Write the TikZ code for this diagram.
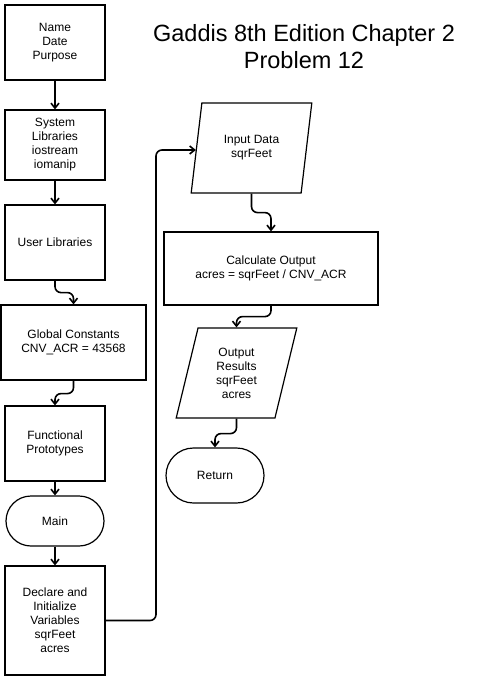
\documentclass[tikz,border=0pt]{standalone}
\usepackage{fontspec}
\setmainfont{Liberation Sans}
\usetikzlibrary{shapes.geometric,shapes.misc,arrows.meta}
\begin{document}
\begin{tikzpicture}[x=1pt,y=-1pt,
  every node/.style={font=\fontsize{12}{14}\selectfont, align=center, inner sep=1pt},
  procbox/.style={draw, line width=1.2pt, rectangle, minimum width=100pt, minimum height=75pt},
  termbox/.style={draw, line width=1.2pt, rounded rectangle, minimum width=100pt, minimum height=50pt},
  iobox/.style={draw, line width=1.2pt, trapezium, trapezium left angle=77, trapezium right angle=103,
    trapezium stretches=true, minimum width=121pt, minimum height=90pt},
  conn/.style={line width=1.6pt, rounded corners=6pt, -{Straight Barb[length=5pt,width=8pt,line width=1.6pt]}}
]
\useasboundingbox (0,0) rectangle (478,684);
\fill[white] (0,0) rectangle (478,684);

\node[font=\fontsize{23.5}{27}\selectfont] (title) at (304,47) {Gaddis 8th Edition Chapter 2\\Problem 12};

\node[procbox] (b1) at (55,42.5) {Name\\Date\\Purpose};
\node[procbox, minimum height=70pt] (b2) at (55,145) {System\\Libraries\\iostream\\iomanip};
\node[procbox] (b3) at (55,242.5) {User Libraries};
\node[procbox, minimum width=145pt] (b4) at (73.5,342.5) {Global Constants\\CNV\_ACR = 43568};
\node[procbox] (b5) at (55,443.5) {Functional\\Prototypes};
\node[termbox] (b6) at (55,521) {Main};
\node[procbox, minimum height=109pt] (b7) at (55,620.5) {Declare and\\Initialize\\Variables\\sqrFeet\\acres};

\node[iobox] (in) at (251.5,148) {Input Data\\sqrFeet};
\node[procbox, minimum width=214pt, minimum height=73pt] (calc) at (271,268.5) {Calculate Output\\acres = sqrFeet / CNV\_ACR};
\node[iobox] (out) at (236.5,373) {Output\\Results\\sqrFeet\\acres};
\node[termbox, minimum height=55pt] (ret) at (215,475.5) {Return};

\draw[conn] (b1.south) -- (b2.north);
\draw[conn] (b2.south) -- (b3.north);
\draw[conn] (b3.south) -- ++(0,12) -| (b4.north);
\draw[conn] (b4.south) -- ++(0,13) -| (b5.north);
\draw[conn] (b5.south) -- (b6.north);
\draw[conn] (b6.south) -- (b7.north);
\coordinate (vx) at (156,150);
\draw[conn] (b7.east) -| (vx) -- (in.west |- vx);
\draw[conn] (in.south) -- ++(0,19) -| (calc.north);
\draw[conn] (calc.south) -- ++(0,11) -| (out.north);
\draw[conn] (out.south) -- ++(0,15) -| (ret.north);
\end{tikzpicture}
\end{document}
